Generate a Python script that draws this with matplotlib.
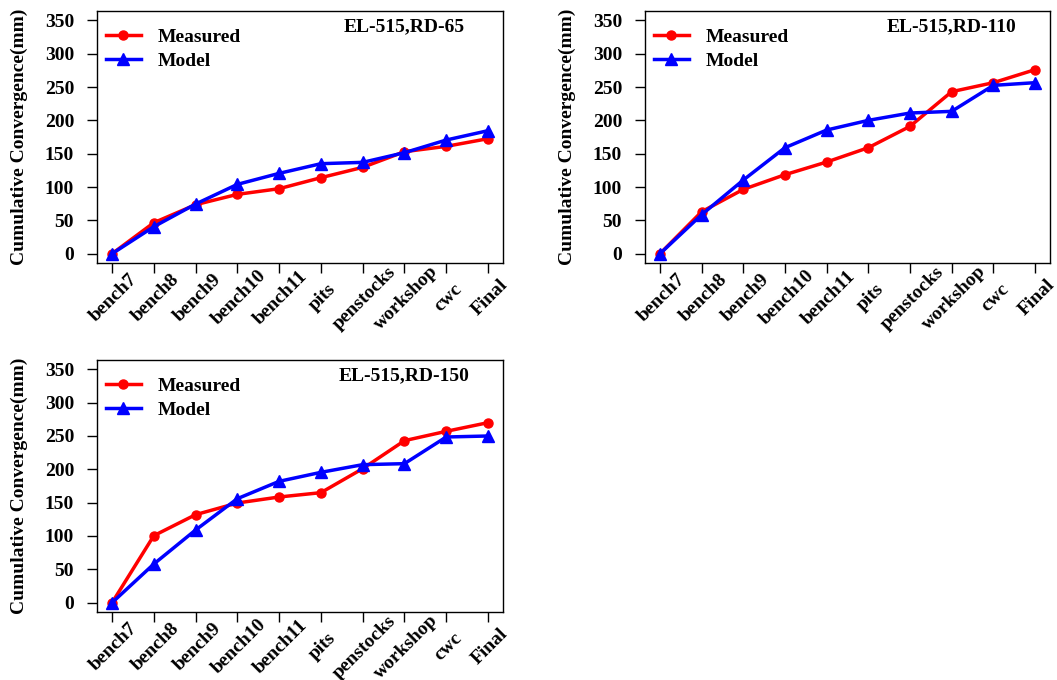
import matplotlib
matplotlib.use("Agg")
import matplotlib.pyplot as plt
from matplotlib.transforms import ScaledTranslation

plt.rcParams["font.family"] = ["Liberation Serif", "DejaVu Serif"]
plt.rcParams["font.weight"] = "bold"

stages = ["bench7", "bench8", "bench9", "bench10", "bench11",
          "pits", "penstocks", "workshop", "cwc", "Final"]
y_ticks = [0, 50, 100, 150, 200, 250, 300, 350]

# EL-515, RD-65
rd65_measured = [0, 46.5, 73.5, 89, 97.5, 114, 129.5, 153, 161, 172.5]
rd65_model = [0, 40.5, 74.5, 104, 120.5, 135, 137, 151.5, 170.5, 184.5]

# EL-515, RD-110
rd110_measured = [0, 63, 96.5, 118.5, 137.5, 159, 191, 243, 256.5, 276]
rd110_model = [0, 58.5, 110.5, 159, 185.5, 200, 211, 213.5, 252.5, 256.5]

# EL-515, RD-150
rd150_measured = [0, 100.5, 132, 149.5, 158.5, 165, 201, 243, 257, 270]
rd150_model = [0, 58, 109, 156, 182, 195.5, 207, 208.5, 248.5, 250]

panels = [
    ("EL-515,RD-65", rd65_measured, rd65_model, [0.0918, 0.6132, 0.3841, 0.3706]),
    ("EL-515,RD-110", rd110_measured, rd110_model, [0.6102, 0.6132, 0.3832, 0.3706]),
    ("EL-515,RD-150", rd150_measured, rd150_model, [0.0918, 0.1000, 0.3841, 0.3706]),
]

fig = plt.figure(figsize=(10.57, 6.80), dpi=100)
fs = 14
nudge = ScaledTranslation(2 / 100, 0, fig.dpi_scale_trans)

for title, measured, model, rect in panels:
    ax = fig.add_axes(rect)
    x = list(range(len(stages)))
    ax.plot(x, measured, color="#ff0000", lw=2.5, marker="o", ms=6.5,
            label="Measured")
    ax.plot(x, model, color="#0000ff", lw=2.5, marker="^", ms=8,
            label="Model")
    ax.set_xlim(-0.36, 9.36)
    ax.set_ylim(-14, 364)
    ax.set_yticks(y_ticks)
    ax.set_xticks(x)
    ax.set_xticklabels(stages, rotation=45, fontsize=fs, fontweight="bold",
                       va="center", ha="center")
    ax.tick_params(axis="both", length=7.5, width=1, labelsize=fs)
    ax.tick_params(axis="y", pad=9)
    ax.tick_params(axis="x", pad=17.5)
    for lab in ax.get_xticklabels():
        lab.set_transform(lab.get_transform() + nudge)
    for lab in ax.get_yticklabels():
        lab.set_fontweight("bold")
    for sp in ax.spines.values():
        sp.set_linewidth(1)
    ax.set_ylabel("Cumulative Convergence(mm)", fontsize=fs, fontweight="bold",
                  labelpad=12)
    ax.text(0.757, 0.938, title, transform=ax.transAxes, ha="center",
            va="center", fontsize=fs, fontweight="bold")
    ax.legend(loc="upper left", bbox_to_anchor=(0.022, 0.93), frameon=False,
              borderpad=0, borderaxespad=0, handlelength=1.8,
              handletextpad=0.88, labelspacing=0.3,
              prop={"size": fs, "weight": "bold"})

fig.savefig("out.png", dpi=100)
